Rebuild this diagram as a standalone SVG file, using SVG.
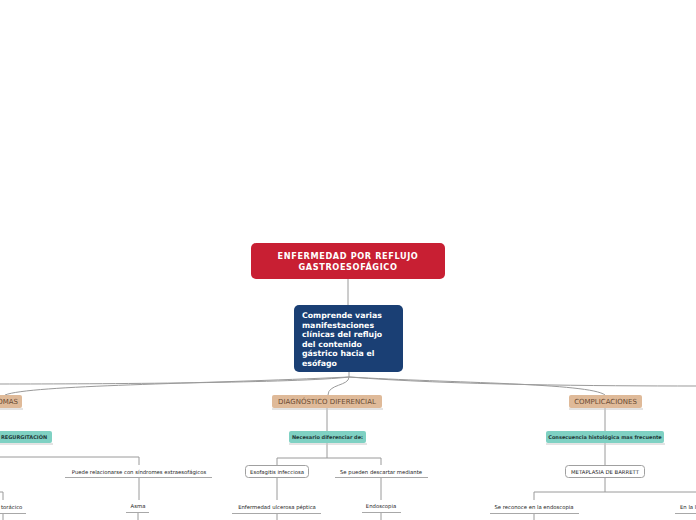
<svg xmlns="http://www.w3.org/2000/svg" width="696" height="520" viewBox="0 0 696 520">
<style>
.c{fill:none;stroke:#9a9a9a;stroke-width:1}
.ul{stroke:#a8a8a8;stroke-width:1}
.tan{fill:#dfba99}
.tant{font-family:"DejaVu Sans",sans-serif;font-size:7px;fill:#6a4a33;text-anchor:middle}
.teal{fill:#7fd1c3}
.tealt{font-family:"DejaVu Sans",sans-serif;font-size:5px;fill:#1f3b3a;text-anchor:middle;font-weight:600}
.wb{fill:#fff;stroke:#a0a0a0;stroke-width:1}
.sm{font-family:"DejaVu Sans",sans-serif;font-size:5.3px;fill:#222;text-anchor:middle}
.sh{stroke:#c8c8c8;stroke-width:1}
</style>
<rect width="696" height="520" fill="#fff"/>
<g id="connectors">
<path class="c" d="M348,279 V305"/>
<path class="c" d="M349,372 V377 C300,383 100,384 0,384"/>
<path class="c" d="M349,377 C200,384 30,385 5,395"/>
<path class="c" d="M349,377 C349,386 328,384 328,395"/>
<path class="c" d="M349,377 C450,383 590,383 605,395"/>
<path class="c" d="M349,377 C450,385 600,386 696,386"/>
<path class="c" d="M327,408 V431"/>
<path class="c" d="M327,443 V458 M277,465 V458 H381 V465"/>
<path class="c" d="M277,478 V500 M277,513 V520"/>
<path class="c" d="M381,477 V500 M381,512 V520"/>
<path class="c" d="M605,408 V431 M605,443 V465 M605,478 V492"/>
<path class="c" d="M534,500 V492 H696"/>
<path class="c" d="M534,513 V520"/>
<path class="c" d="M0,457 H139 V465"/>
<path class="c" d="M139,477 V500 M138,512 V520"/>
<path class="c" d="M0,492 H3 V500 M3,513 V520"/>
</g>
<g id="root">
<rect x="251" y="243" width="194" height="36" rx="5" fill="#c81f33"/>
<text x="348" y="259" font-family="DejaVu Sans,sans-serif" font-size="8.2" font-weight="bold" fill="#fff" text-anchor="middle" letter-spacing="0.6">ENFERMEDAD POR REFLUJO</text>
<text x="348" y="270" font-family="DejaVu Sans,sans-serif" font-size="8.2" font-weight="bold" fill="#fff" text-anchor="middle" letter-spacing="0.6">GASTROESOFÁGICO</text>
</g>
<g id="central">
<rect x="294" y="305" width="109" height="67" rx="5" fill="#1a3f74"/>
<g font-family="DejaVu Sans,sans-serif" font-size="7.8" font-weight="bold" fill="#fff">
<text x="302" y="318">Comprende varias</text>
<text x="302" y="327.5">manifestaciones</text>
<text x="302" y="337">clínicas del reflujo</text>
<text x="302" y="346.5">del contenido</text>
<text x="302" y="356">gástrico hacia el</text>
<text x="302" y="365.5">esófago</text>
</g>
</g>
<g id="sintomas">
<line class="sh" x1="-40" y1="409" x2="23" y2="409"/>
<rect class="tan" x="-60" y="395" width="82" height="13" rx="2"/>
<text class="tant" x="18" y="404" style="text-anchor:end">SÍNTOMAS</text>
</g>
<g id="diagnostico">
<line class="sh" x1="272" y1="409" x2="383" y2="409"/>
<rect class="tan" x="272" y="395" width="110" height="13" rx="2"/>
<text class="tant" x="327" y="404">DIAGNÓSTICO DIFERENCIAL</text>
</g>
<g id="complicaciones">
<line class="sh" x1="569" y1="409" x2="643" y2="409"/>
<rect class="tan" x="569" y="395" width="73" height="13" rx="2"/>
<text class="tant" x="605.5" y="404">COMPLICACIONES</text>
</g>
<g id="regurgitacion">
<line class="sh" x1="-40" y1="444" x2="53" y2="444"/>
<rect class="teal" x="-60" y="431" width="112" height="12" rx="2"/>
<text class="tealt" x="1" y="439" style="text-anchor:start">REGURGITACIÓN</text>
</g>
<g id="necesario">
<line class="sh" x1="289" y1="444" x2="367" y2="444"/>
<rect class="teal" x="289" y="431" width="77" height="12" rx="2"/>
<text class="tealt" x="327.5" y="439">Necesario diferenciar de:</text>
</g>
<g id="consecuencia">
<line class="sh" x1="546" y1="444" x2="665" y2="444"/>
<rect class="teal" x="546" y="431" width="118" height="12" rx="2"/>
<text class="tealt" x="605" y="439">Consecuencia histológica mas frecuente</text>
</g>
<g id="esofagitis">
<rect class="wb" x="245.5" y="465.5" width="63" height="12" rx="3"/>
<text class="sm" x="277" y="474">Esofagitis infecciosa</text>
</g>
<g id="descartar">
<text class="sm" x="381" y="474">Se pueden descartar mediante</text>
<line class="ul" x1="335" y1="477.5" x2="428" y2="477.5"/>
</g>
<g id="ulcerosa">
<text class="sm" x="277" y="509">Enfermedad ulcerosa péptica</text>
<line class="ul" x1="232" y1="513.5" x2="321" y2="513.5"/>
</g>
<g id="endoscopia">
<text class="sm" x="381" y="508">Endoscopia</text>
<line class="ul" x1="362" y1="512.5" x2="401" y2="512.5"/>
</g>
<g id="barrett">
<rect class="wb" x="565.5" y="465.5" width="79" height="12" rx="3"/>
<text class="sm" x="605" y="474">METAPLASIA DE BARRETT</text>
</g>
<g id="reconoce">
<text class="sm" x="534" y="509">Se reconoce en la endoscopia</text>
<line class="ul" x1="490" y1="513.5" x2="579" y2="513.5"/>
</g>
<g id="enla">
<text class="sm" x="680" y="509" style="text-anchor:start">En la l</text>
<line class="ul" x1="675" y1="513.5" x2="696" y2="513.5"/>
</g>
<g id="puede">
<text class="sm" x="139" y="474">Puede relacionarse con síndromes extraesofágicos</text>
<line class="ul" x1="65" y1="477.5" x2="212" y2="477.5"/>
</g>
<g id="asma">
<text class="sm" x="138" y="508">Asma</text>
<line class="ul" x1="126" y1="512.5" x2="149" y2="512.5"/>
</g>
<g id="toracico">
<text class="sm" x="1" y="509" style="text-anchor:start">torácico</text>
<line class="ul" x1="0" y1="513.5" x2="26" y2="513.5"/>
</g>
</svg>
